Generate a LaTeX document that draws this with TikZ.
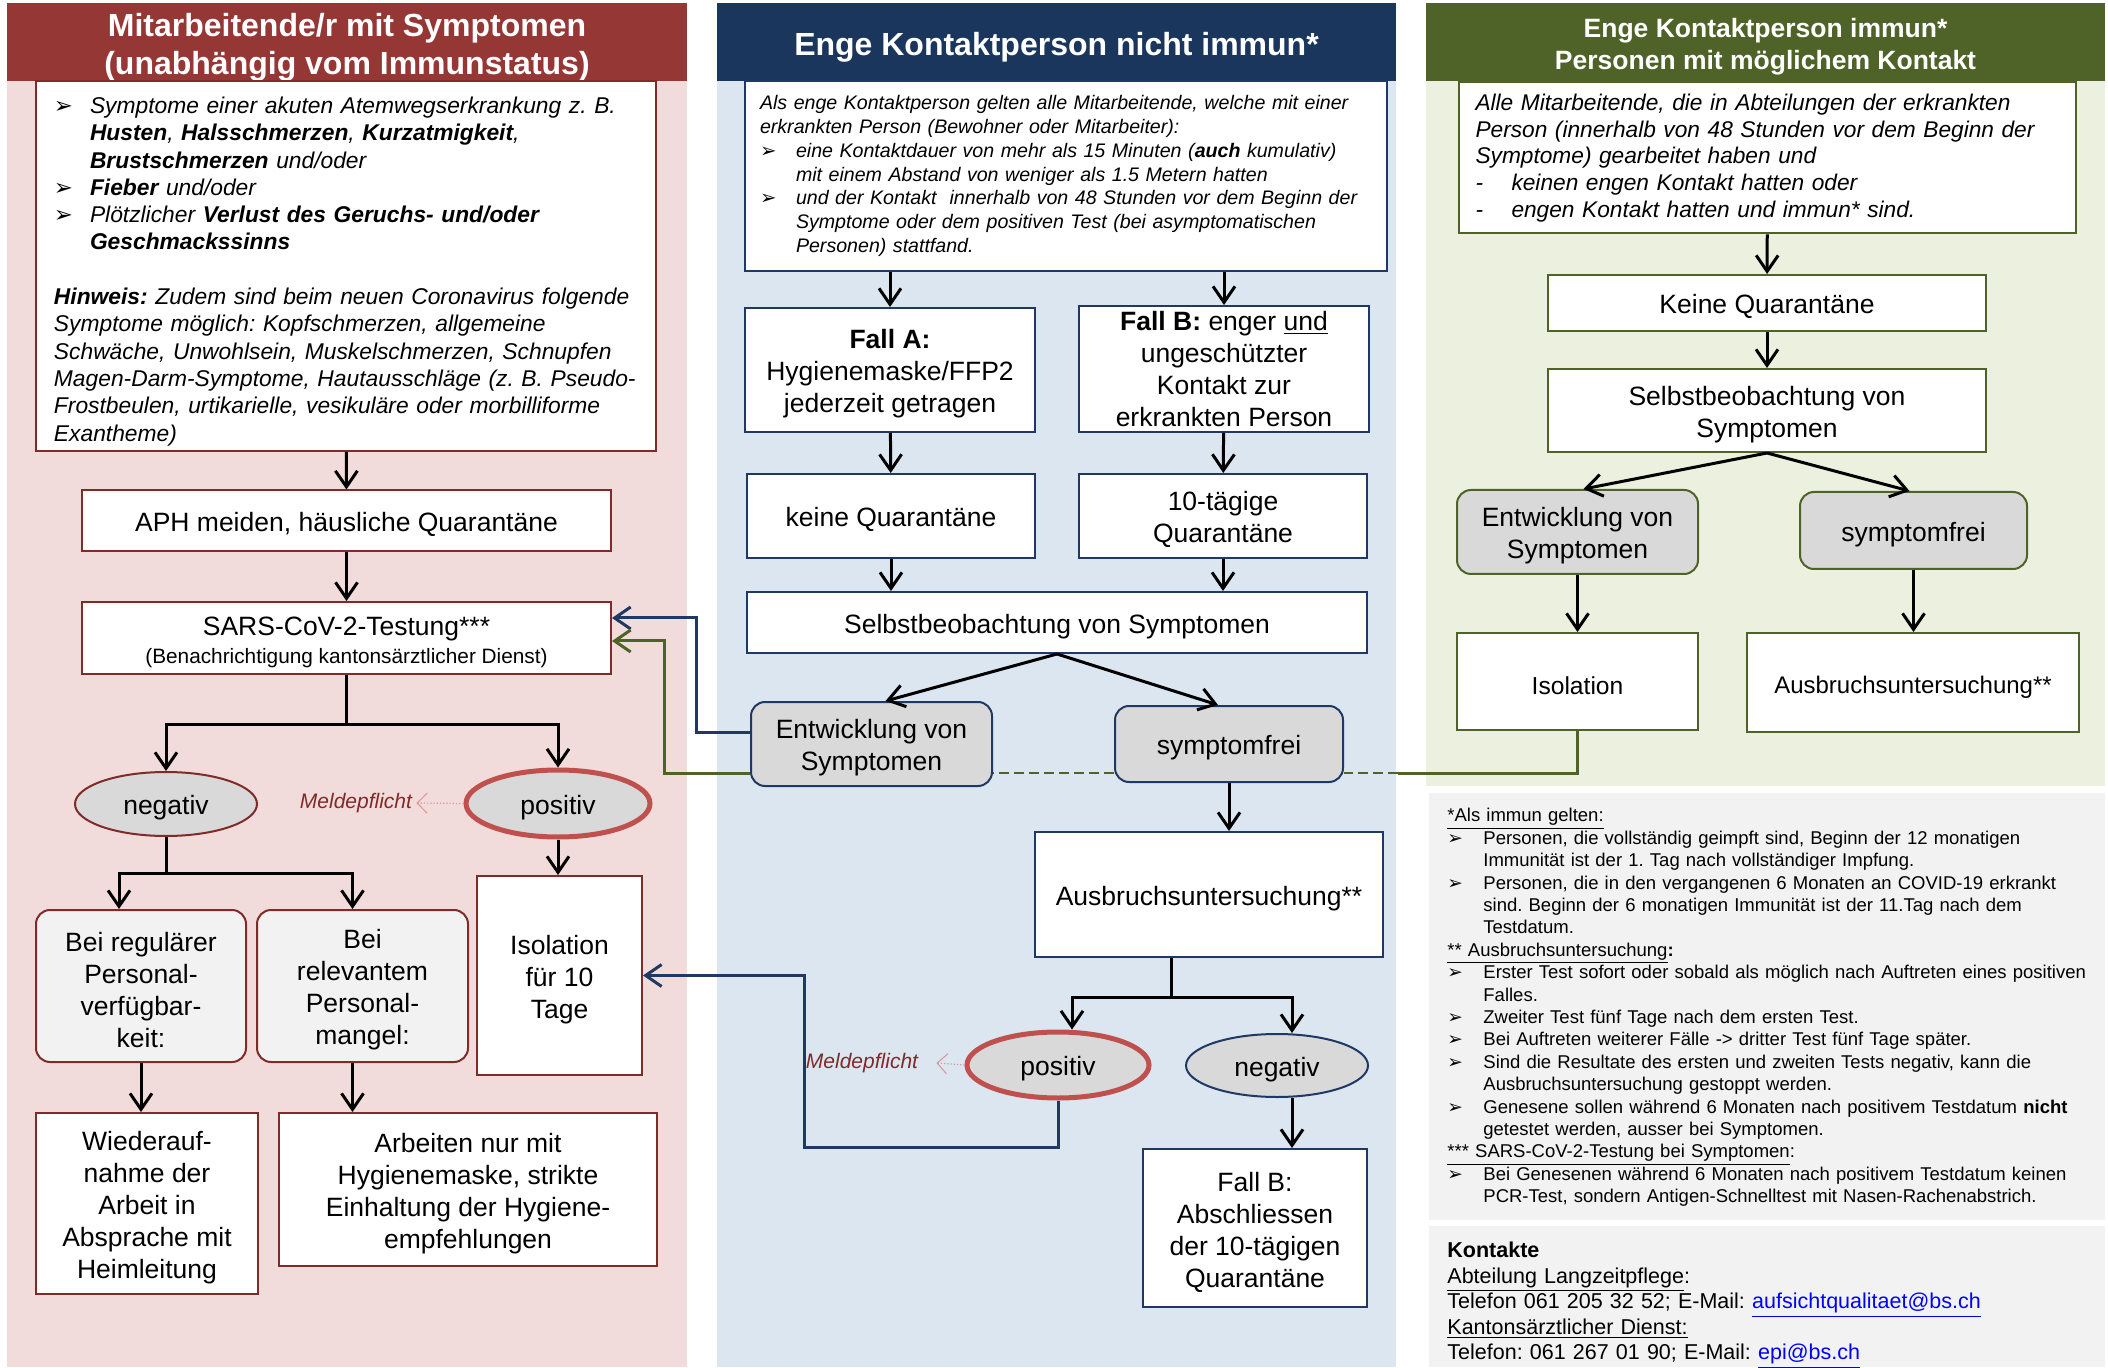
\documentclass[tikz,border=0pt]{standalone}
\usepackage{fontspec}
\setmainfont{Liberation Sans}
\newfontfamily\dingfont{DejaVu Sans}
\usepackage{tikz}
\usetikzlibrary{arrows.meta,shapes.geometric,calc}

\definecolor{rotkopf}{HTML}{953735}
\definecolor{rotgrund}{HTML}{F2DCDB}
\definecolor{rotrand}{HTML}{7F2B29}
\definecolor{blaukopf}{HTML}{1B365D}
\definecolor{blaugrund}{HTML}{DCE6F1}
\definecolor{blaurand}{HTML}{1F3864}
\definecolor{gruenkopf}{HTML}{4F6228}
\definecolor{gruengrund}{HTML}{EBF1DE}
\definecolor{grauell}{HTML}{D9D9D9}
\definecolor{grauhell}{HTML}{F2F2F2}
\definecolor{posrot}{HTML}{C0504D}
\definecolor{meldrot}{HTML}{D99694}
\definecolor{linkblau}{HTML}{0000FF}

\newcommand{\fs}[2]{\fontsize{#1}{#2}\selectfont}
\newcommand{\hoch}[1][13.5pt]{\rule{0pt}{#1}}
\newcommand{\spitze}{{\upshape\dingfont ➢}}
\newcommand{\punkt}[1]{\par\noindent\hangindent=18pt\hangafter=1\makebox[18pt][l]{\spitze}#1\par}
\newcommand{\strich}[1]{\par\noindent\hangindent=18pt\hangafter=1\makebox[18pt][l]{-}#1\par}

\tikzset{
  sz/.style 2 args={minimum width=#1*0.5pt, minimum height=#2*0.5pt},
  tiefer/.style={execute at begin node={\rule{0pt}{#1}}},
  rahmen/.style={draw, fill=white, line width=1pt},
  kasten/.style={rahmen, align=center, font=\fs{13.25}{16}, tiefer=13.5pt},
  rotk/.style={kasten, draw=rotrand},
  blauk/.style={kasten, draw=blaurand},
  gruenk/.style={kasten, draw=gruenkopf},
  rund/.style={rounded corners=7pt, fill=grauell},
  oval/.style={ellipse, draw, fill=grauell, line width=1pt, font=\fs{13.25}{16}, tiefer=13.5pt},
  positiv/.style={oval, draw=posrot, line width=2.5pt},
  kopf/.style={text=white, align=center, font=\bfseries\fs{16}{19}, tiefer=16.5pt},
  meldtext/.style={font=\itshape\fs{10.5}{12}, text=rotrand},
  pfeil/.style={-{Straight Barb[length=8pt,width=11pt]}, line width=1.5pt},
  meldpfeil/.style={-{Straight Barb[length=5pt,width=10pt,line width=0.5pt]},
    draw=meldrot, densely dotted, line width=0.6pt},
  blaupfeil/.style={pfeil, draw=blaurand},
  gruenlinie/.style={line width=1.5pt, draw=gruenkopf},
  gruenpfeil/.style={pfeil, draw=gruenkopf}
}

\begin{document}
\frenchspacing
\begin{tikzpicture}[x=0.5pt, y=-0.5pt, every node/.style={inner sep=0pt}]

  \useasboundingbox (0,0) rectangle (2108,1368);

  % column backgrounds
  \fill[rotgrund] (7,81) rectangle (687,1367);
  \fill[blaugrund] (717,81) rectangle (1396,1367);
  \fill[gruengrund] (1426,81) rectangle (2105,786);
  \fill[grauhell] (1429,793) rectangle (2105,1220);
  \fill[grauhell] (1429,1226) rectangle (2105,1367);

  % headers
  \node[kopf, fill=rotkopf, sz={680}{78}] (kopfrot) at (347,42)
    {\hoch[16.5pt]Mitarbeitende/r mit Symptomen\\(unabhängig vom Immunstatus)};
  \node[kopf, fill=blaukopf, sz={679}{78}] (kopfblau) at (1056.5,42)
    {Enge Kontaktperson nicht immun*};
  \node[kopf, fill=gruenkopf, sz={679}{78}, font=\bfseries\fs{13.25}{16.3}] (kopfgruen) at (1765.5,42)
    {\hoch[14.5pt]Enge Kontaktperson immun*\\Personen mit möglichem Kontakt};

  % red column
  \node[rahmen, draw=rotrand, sz={620}{370}, text width=292pt, align=left, font=\itshape\fs{11.4}{13.65}] (symptome) at (346,266) {%
    \punkt{Symptome einer akuten Atemwegserkrankung z.\ B.\newline
      \textbf{Husten}, \textbf{Halsschmerzen}, \textbf{Kurzatmigkeit},\newline
      \textbf{Brustschmerzen} und/oder}
    \punkt{\textbf{Fieber} und/oder}
    \punkt{Plötzlicher \textbf{Verlust des Geruchs- und/oder}\newline\textbf{Geschmackssinns}}
    \vspace{13.65pt}
    \noindent\textbf{Hinweis:} Zudem sind beim neuen Coronavirus folgende\newline
    Symptome möglich: Kopfschmerzen, allgemeine\newline
    Schwäche, Unwohlsein, Muskelschmerzen, Schnupfen\newline
    Magen-Darm-Symptome, Hautausschläge (z.\ B. Pseudo-\newline
    Frostbeulen, urtikarielle, vesikuläre oder morbilliforme\newline
    Exantheme)\par};
  \node[rotk, sz={529}{61}] (aph) at (346.5,521) {APH meiden, häusliche Quarantäne};
  \node[rotk, sz={529}{72}] (test) at (346.5,638)
    {\hoch SARS-CoV-2-Testung***\\[-2pt]{\fs{10.4}{12.5}(Benachrichtigung kantonsärztlicher Dienst)}};
  \node[oval, draw=rotrand, sz={182}{64}] (negrot) at (166,804) {negativ};
  \node[positiv, sz={184}{67}] (posrot) at (558,803.5) {positiv};
  \node[meldtext] (meldrot) at (356,803) {Meldepflicht};
  \node[rotk, sz={165}{199}] (isorot) at (559.5,975.5) {\hoch Isolation\\für 10\\Tage};
  \node[rotk, rund, fill=grauhell, sz={210}{152}] (regulaer) at (141,986)
    {\hoch Bei regulärer\\Personal-\\verfügbar-\\keit:};
  \node[rotk, rund, fill=grauhell, sz={211}{152}] (relevant) at (362.5,986)
    {\hoch Bei\\relevantem\\Personal-\\mangel:};
  \node[rotk, sz={222}{181}] (wieder) at (147,1203.5)
    {\hoch Wiederauf-\\nahme der\\Arbeit in\\Absprache mit\\Heimleitung};
  \node[rotk, sz={378}{153}] (arbeiten) at (468,1189.5)
    {\hoch Arbeiten nur mit\\Hygienemaske, strikte\\Einhaltung der Hygiene-\\empfehlungen};

  \draw[pfeil] (symptome) -- (aph);
  \draw[pfeil] (aph) -- (test);
  \draw[pfeil] (test.south) -- ++(0,49) -| (negrot.north);
  \draw[pfeil] (test.south) -- ++(0,49) -| (posrot.north);
  \draw[pfeil] (negrot.south) -- ++(0,36) -| ([xshift=-11pt]regulaer.north);
  \draw[pfeil] (negrot.south) -- ++(0,36) -| ([xshift=-5pt]relevant.north);
  \draw[pfeil] (posrot.south) -- (posrot.south |- isorot.north);
  \draw[pfeil] (regulaer.south) -- (regulaer.south |- wieder.north);
  \draw[pfeil] ([xshift=-5pt]relevant.south) -- ([xshift=-5pt]relevant.south |- arbeiten.north);
  \draw[meldpfeil] (posrot.west) -- ([xshift=2pt]meldrot.east);

  % blue column
  \node[rahmen, draw=blaurand, sz={642}{190}, text width=306pt, align=left, font=\itshape\fs{9.8}{11.9}] (defblau) at (1066,176) {%
    \noindent Als enge Kontaktperson gelten alle Mitarbeitende, welche mit einer\newline
    erkrankten Person (Bewohner oder Mitarbeiter):
    \punkt{eine Kontaktdauer von mehr als 15 Minuten (\textbf{auch} kumulativ)\newline
      mit einem Abstand von weniger als 1.5 Metern hatten}
    \punkt{und der Kontakt\ \ innerhalb von 48 Stunden vor dem Beginn der\newline
      Symptome oder dem positiven Test (bei asymptomatischen\newline
      Personen) stattfand.}};
  \node[blauk, sz={290}{124}] (fallA) at (890,370)
    {\hoch\textbf{Fall A:}\\Hygienemaske/FFP2\\jederzeit getragen};
  \node[blauk, sz={290}{126}] (fallB) at (1224,369)
    {\textbf{Fall B:} enger \underline{und}\\ungeschützter\\Kontakt zur\\erkrankten Person};
  \node[blauk, sz={288}{84}] (keineblau) at (891,516) {keine Quarantäne};
  \node[blauk, sz={288}{84}] (zehn) at (1223,516) {\hoch 10-tägige\\Quarantäne};
  \node[blauk, sz={620}{61}] (selbstblau) at (1057,622.5) {Selbstbeobachtung von Symptomen};
  \node[blauk, rund, sz={241}{84}] (entblau) at (871.5,744) {\hoch Entwicklung von\\Symptomen};
  \node[blauk, rund, sz={228}{76}] (freiblau) at (1229,744) {symptomfrei};
  \node[blauk, sz={348}{125}] (ausblau) at (1209,894.5) {Ausbruchsuntersuchung**};
  \node[positiv, sz={182}{66}] (posblau) at (1058,1065) {positiv};
  \node[oval, draw=blaurand, sz={182}{63}] (negblau) at (1277,1065.5) {negativ};
  \node[meldtext] (meldblau) at (862,1063) {Meldepflicht};
  \node[blauk, sz={224}{158}] (abschluss) at (1255,1228)
    {\hoch Fall B:\\Abschliessen\\der 10-tägigen\\Quarantäne};

  \draw[pfeil] (defblau.south -| fallA) -- (fallA);
  \draw[pfeil] (defblau.south -| fallB) -- (fallB);
  \draw[pfeil] (fallA) -- (keineblau);
  \draw[pfeil] (fallB) -- (zehn);
  \draw[pfeil] (keineblau.south) -- (keineblau.south |- selbstblau.north);
  \draw[pfeil] (zehn.south) -- (zehn.south |- selbstblau.north);
  \draw[pfeil] (selbstblau.south) -- ([xshift=7pt]entblau.north);
  \draw[pfeil] (selbstblau.south) -- ([xshift=-5.5pt]freiblau.north);
  \draw[pfeil] (freiblau.south) -- (freiblau.south |- ausblau.north);
  \draw[pfeil] ([xshift=-19pt]ausblau.south) -- ++(0,39) -| ([xshift=7pt]posblau.north);
  \draw[pfeil] ([xshift=-19pt]ausblau.south) -- ++(0,39) -| ([xshift=7.5pt]negblau.north);
  \draw[pfeil] ([xshift=7.5pt]negblau.south) -- ([xshift=7.5pt]negblau.south |- abschluss.north);
  \draw[meldpfeil] (posblau.west) -- ([xshift=9pt]meldblau.east);

  % green column
  \node[rahmen, draw=gruenkopf, sz={617}{151}, text width=292pt, align=left, font=\itshape\fs{11.35}{13.35}] (defgruen) at (1767.5,158) {%
    \noindent Alle Mitarbeitende, die in Abteilungen der erkrankten\newline
    Person (innerhalb von 48 Stunden vor dem Beginn der\newline
    Symptome) gearbeitet haben und
    \strich{keinen engen Kontakt hatten oder}
    \strich{engen Kontakt hatten und immun* sind.}};
  \node[gruenk, sz={438}{56}] (keinegruen) at (1767,303) {Keine Quarantäne};
  \node[gruenk, sz={438}{83}] (selbstgruen) at (1767,410.5) {\hoch Selbstbeobachtung von\\Symptomen};
  \node[gruenk, rund, sz={241}{84}] (entgruen) at (1577.5,532) {\hoch Entwicklung von\\Symptomen};
  \node[gruenk, rund, sz={227}{77}] (freigruen) at (1913.5,530.5) {symptomfrei};
  \node[gruenk, sz={241}{97}, font=\fs{12.3}{15}] (isogruen) at (1577.5,681.5) {Isolation};
  \node[gruenk, sz={332}{99}, font=\fs{12}{15}] (ausgruen) at (1913,682.5) {Ausbruchsuntersuchung**};

  \draw[pfeil] (defgruen) -- (keinegruen);
  \draw[pfeil] (keinegruen) -- (selbstgruen);
  \draw[pfeil] (selbstgruen.south) -- ([xshift=3pt]entgruen.north);
  \draw[pfeil] (selbstgruen.south) -- ([xshift=-2pt]freigruen.north);
  \draw[pfeil] (entgruen) -- (isogruen);
  \draw[pfeil] (freigruen.south) -- (freigruen.south |- ausgruen.north);

  % feedback lines to the testing
  \draw[blaupfeil] ([yshift=6pt]entblau.west) -- ++(-54,0) |- ([yshift=10pt]test.east);
  \draw[blaupfeil] (posblau.south) -- ++(0,47) -- ++(-254,0) |- (isorot.east);
  \coordinate (gknick) at (1398,773);
  \draw[gruenlinie] (isogruen.south) |- (gknick);
  \draw[gruenlinie, line width=1pt, dash pattern=on 5pt off 2.5pt] (gknick) -- (freiblau.east |- gknick);
  \draw[gruenlinie, line width=1pt, dash pattern=on 5pt off 2.5pt] (freiblau.west |- gknick) -- (entblau.east |- gknick);
  \draw[gruenpfeil] (entblau.west |- gknick) -- ++(-86,0) |- ([yshift=-1.5pt]test.east);

  % footnotes
  \node[anchor=north west, text width=326pt, align=left, font=\fs{9.25}{11.2}] (fussnote) at (1447,808) {%
    \noindent\underline{*Als immun gelten:}\par
    \punkt{Personen, die vollständig geimpft sind, Beginn der 12 monatigen\newline
      Immunität ist der 1. Tag nach vollständiger Impfung.}
    \punkt{Personen, die in den vergangenen 6 Monaten an COVID-19 erkrankt\newline
      sind. Beginn der 6 monatigen Immunität ist der 11.Tag nach dem\newline
      Testdatum.}
    \noindent\underline{** Ausbruchsuntersuchung}\textbf{:}\par
    \punkt{Erster Test sofort oder sobald als möglich nach Auftreten eines positiven\newline
      Falles.}
    \punkt{Zweiter Test fünf Tage nach dem ersten Test.}
    \punkt{Bei Auftreten weiterer Fälle -> dritter Test fünf Tage später.}
    \punkt{Sind die Resultate des ersten und zweiten Tests negativ, kann die\newline
      Ausbruchsuntersuchung gestoppt werden.}
    \punkt{Genesene sollen während 6 Monaten nach positivem Testdatum \textbf{nicht}\newline
      getestet werden, ausser bei Symptomen.}
    \noindent\underline{*** SARS-CoV-2-Testung bei Symptomen}:\par
    \punkt{Bei Genesenen während 6 Monaten nach positivem Testdatum keinen\newline
      PCR-Test, sondern Antigen-Schnelltest mit Nasen-Rachenabstrich.}};
  \node[anchor=north west, text width=326pt, align=left, font=\fs{10.75}{12.75}] (kontakte) at (1447,1242) {%
    \noindent\textbf{Kontakte}\newline
    \underline{Abteilung Langzeitpflege}:\newline
    Telefon 061 205 32 52; E-Mail: \textcolor{linkblau}{\underline{aufsichtqualitaet@bs.ch}}\newline
    \underline{Kantonsärztlicher Dienst:}\newline
    Telefon: 061 267 01 90; E-Mail: \textcolor{linkblau}{\underline{epi@bs.ch}}\par};
\end{tikzpicture}
\end{document}
